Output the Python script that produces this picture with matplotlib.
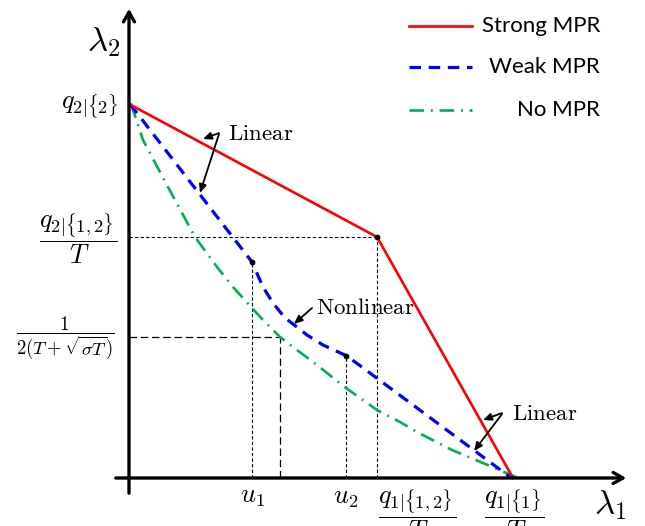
import matplotlib
matplotlib.use('Agg')
import matplotlib.pyplot as plt
import numpy as np

plt.rcParams['mathtext.fontset'] = 'cm'

# coordinates measured from the origin of the drawn axes
strong_x = [0, 248, 384]
strong_y = [374, 241, 0]

weak_x = [1, 123, 134, 144, 156, 164, 178, 194, 218, 381]
weak_y = [374, 216, 191, 175, 160, 154, 143, 133, 122, 1]

none_x = [2, 14, 39, 66, 88, 104, 123, 134, 151, 168, 188, 217, 248, 271, 288, 323, 361, 389]
none_y = [374, 338, 291, 241, 211, 191, 170, 158, 141, 128, 113, 90, 68, 56, 46, 28, 12, 0]

# marked points: strong kink, u1, u2
dots_x = [248, 123, 217]
dots_y = [241, 216, 122]

q2_12 = 241          # q_{2|{1,2}}/T level
q1_12 = 248          # q_{1|{1,2}}/T position
lam_lvl = 141        # 1/(2(T+sqrt(sigma T))) level
lam_x = 151
u1 = 123
u2 = 217
q1_1 = 385

RED = '#ff0000'
BLUE = '#0000ff'
GREEN = '#00b050'

fig = plt.figure(figsize=(6.45, 5.26), dpi=100)
ax = fig.add_axes([0, 0, 1, 1])
ax.set_xlim(-129, 516)
ax.set_ylim(-48, 478)
ax.axis('off')

# axes with arrows
ax.annotate('', xy=(500, 0), xytext=(-16, 0),
            arrowprops=dict(arrowstyle='->,head_length=0.7,head_width=0.4', lw=2.4, color='black'))
ax.annotate('', xy=(0, 472), xytext=(0, -18),
            arrowprops=dict(arrowstyle='->,head_length=0.7,head_width=0.4', lw=2.4, color='black'))

# guide lines
ax.plot([0, q1_12], [q2_12, q2_12], color='black', lw=0.8, ls=(0, (3, 2)))
ax.plot([q1_12, q1_12], [0, q2_12], color='black', lw=0.8, ls=(0, (3, 2)))
ax.plot([0, lam_x], [lam_lvl, lam_lvl], color='black', lw=0.9, ls=(0, (6, 3)))
ax.plot([lam_x, lam_x], [0, lam_lvl], color='black', lw=0.9, ls=(0, (6, 3)))
ax.plot([u1, u1], [0, dots_y[1]], color='black', lw=0.8, ls=(0, (3, 2)))
ax.plot([u2, u2], [0, dots_y[2]], color='black', lw=0.8, ls=(0, (3, 2)))

# curves
ax.plot(none_x, none_y, color=GREEN, lw=1.9, ls=(0, (5.5, 2.6, 0.7, 2.6)))
ax.plot(weak_x, weak_y, color=BLUE, lw=2.3, ls=(0, (3.6, 2.4)))
ax.plot(strong_x, strong_y, color=RED, lw=1.9)
ax.scatter(dots_x, dots_y, s=10, color='black', zorder=5)

# annotations
arr = dict(arrowstyle='-|>,head_length=0.5,head_width=0.22', lw=1.3, color='black', shrinkA=0, shrinkB=0)
ax.text(99, 345, r'$\mathrm{Linear}$', fontsize=16.5, va='center', ha='left')
ax.annotate('', xy=(74, 339), xytext=(90, 345), arrowprops=arr)
ax.annotate('', xy=(71, 285), xytext=(90, 344), arrowprops=arr)

ax.text(187, 171, r'$\mathrm{Nonlinear}$', fontsize=16.5, va='center', ha='left')
ax.annotate('', xy=(165, 154), xytext=(183, 170), arrowprops=arr)

ax.text(383, 65, r'$\mathrm{Linear}$', fontsize=16.5, va='center', ha='left')
ax.annotate('', xy=(354, 58), xytext=(373, 65), arrowprops=arr)
ax.annotate('', xy=(345, 27), xytext=(373, 64), arrowprops=arr)

# axis labels
ax.text(-25, 436, r'$\lambda_2$', fontsize=25, ha='center', va='center')
ax.text(481, -27, r'$\lambda_1$', fontsize=25, ha='center', va='center')

# tick-like labels
ax.text(-11, 371, r'$q_{2|\{2\}}$', fontsize=19, ha='right', va='center')
ax.text(-51, q2_12 - 2, r'$\dfrac{q_{2|\{1,2\}}}{T}$', fontsize=19, ha='center', va='center')
ax.text(-64, lam_lvl - 1, r'$\dfrac{1}{2(T+\sqrt{\sigma T})}$', fontsize=13.5, ha='center', va='center')
ax.text(u1, -18, r'$u_1$', fontsize=19, ha='center', va='center')
ax.text(u2, -19, r'$u_2$', fontsize=19, ha='center', va='center')
ax.text(288, -37, r'$\dfrac{q_{1|\{1,2\}}}{T}$', fontsize=19, ha='center', va='center')
ax.text(q1_1, -37, r'$\dfrac{q_{1|\{1\}}}{T}$', fontsize=19, ha='center', va='center')

# legend
leg_labels = ['Strong MPR', 'Weak MPR', 'No MPR']
leg_styles = [dict(color=RED, lw=1.9), dict(color=BLUE, lw=2.3, ls=(0, (3.6, 2.4))),
              dict(color=GREEN, lw=1.9, ls=(0, (5.5, 2.6, 0.7, 2.6)))]
leg_y = [452, 411, 368]
for lab, st, yy in zip(leg_labels, leg_styles, leg_y):
    ax.plot([280, 343], [yy, yy], **st)
    ax.text(471, yy, lab, fontsize=16, family='Lato', ha='right', va='center')

fig.savefig('out.png', dpi=100)
